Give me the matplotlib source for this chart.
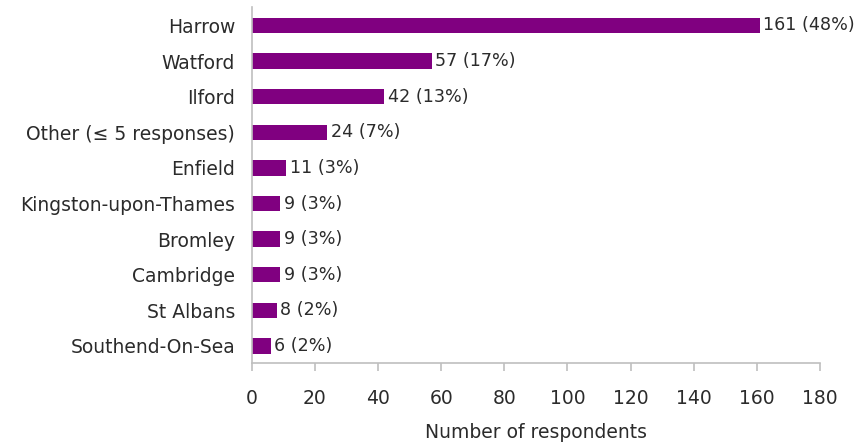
import matplotlib
matplotlib.use("Agg")
import matplotlib.pyplot as plt

categories = ["Harrow", "Watford", "Ilford", "Other (≤ 5 responses)", "Enfield",
              "Kingston-upon-Thames", "Bromley", "Cambridge", "St Albans", "Southend-On-Sea"]
counts = [161, 57, 42, 24, 11, 9, 9, 9, 8, 6]
percents = [48, 17, 13, 7, 3, 3, 3, 3, 2, 2]
xticks = [0, 20, 40, 60, 80, 100, 120, 140, 160, 180]

plt.rcParams['font.family'] = ['DejaVu Sans']
fig = plt.figure(figsize=(8.59, 4.44), dpi=100)
ax = fig.add_axes([0.2930, 0.1831, 0.6616, 0.8005])

FS = 13.5
TC = "#2b2b2b"
ypos = list(range(len(categories)))
ax.barh(ypos, counts, height=0.43, color="#800080")
for y, c, p in zip(ypos, counts, percents):
    ax.text(c + 1.1, y, f"{c} ({p}%)", va="center", ha="left", fontsize=12.6, color=TC)

ax.set_ylim(9.47, -0.51)
ax.set_xlim(0, 180)
ax.set_yticks(ypos)
ax.set_yticklabels(categories, fontsize=FS, color=TC)
ax.set_xticks(xticks)
ax.set_xticklabels([str(t) for t in xticks], fontsize=FS, color=TC)
ax.tick_params(axis="y", length=0, pad=12)
ax.tick_params(axis="x", length=6, color="#bfbfbf", width=1.2, direction="out", pad=13)
for s in ["top", "right"]:
    ax.spines[s].set_visible(False)
for s in ["left", "bottom"]:
    ax.spines[s].set_color("#bfbfbf")
    ax.spines[s].set_linewidth(1.2)
ax.set_xlabel("Number of respondents", fontsize=FS, color=TC, labelpad=11)

fig.savefig("out.png", dpi=100)
